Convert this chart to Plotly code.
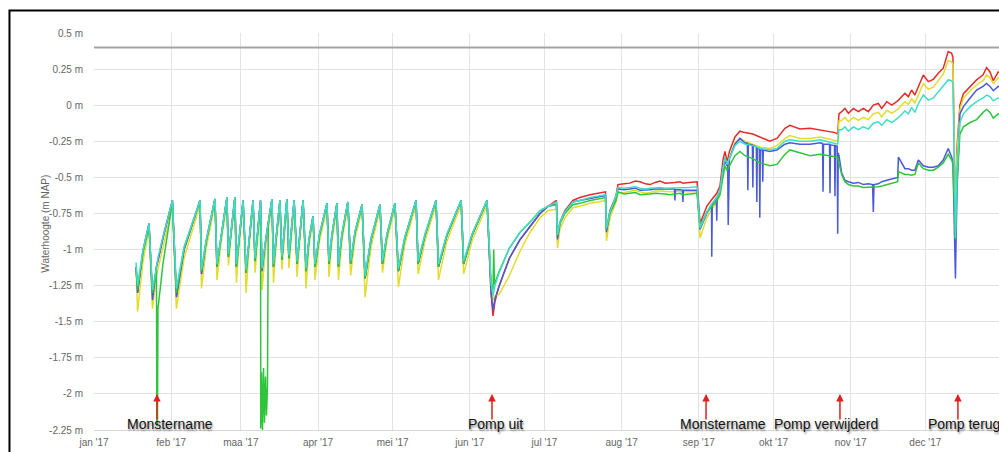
import pandas as pd
import plotly.graph_objects as go

# ---------------- data (day offsets from 1 Jan 2017, values in m NAP) ----------------
days = [
    16.9, 17.5, 19.7, 22.1, 23.5, 25.1, 25.9, 27.7, 31.5, 33.1,
    36.2, 42.6, 43.2, 45.0, 48.6, 49.4, 51.0, 53.4, 54.0, 55.0,
    56.6, 57.2, 58.3, 59.9, 61.1, 62.3, 63.9, 64.7, 65.7, 66.9,
    67.5, 69.1, 71.5, 72.1, 73.3, 74.7, 75.5, 76.5, 77.5, 78.3,
    79.4, 80.4, 81.6, 82.6, 84.0, 85.2, 86.4, 88.0, 88.8, 90.6,
    93.6, 94.4, 95.6, 97.6, 98.2, 99.6, 102.0, 103.1, 104.9, 107.7,
    108.9, 111.3, 114.9, 115.9, 117.7, 120.9, 122.3, 124.9, 129.4, 130.2,
    133.0, 137.4, 138.4, 141.8, 147.5, 148.5, 151.9, 157.9, 159.5, 160.3,
    161.1,
    162.8, 166.9, 171.2, 175.2, 179.2, 182.5, 185.8, 186.2, 187.2, 189.2,
    192.4, 195.2, 199.3, 202.5, 205.5, 205.9, 207.3, 209.7, 210.5, 213.0,
    215.3, 217.5, 219.4, 221.5, 223.4, 225.5, 227.4, 229.5, 231.4, 233.4,
    235.5, 236.6, 239.0, 242.3,
    243.5, 246.2, 247.9, 250.2, 251.5, 252.7, 253.5, 254.3, 254.8, 255.3,
    257.5, 259.5, 261.5, 264.7, 267.5, 271.5, 274.4, 277.6, 279.6, 283.6,
    287.7, 291.7, 295.7, 297.7, 298.8,
    299.3, 300.4, 301.7, 303.1, 305.1, 307.1, 309.1, 311.1, 313.1, 315.1,
    316.5, 318.5, 320.5, 322.9, 323.2, 325.8, 327.2, 328.5, 329.8, 331.2,
    333.2, 335.2, 337.2, 339.2, 341.2, 343.2, 344.6, 345.1, 346.1, 346.7,
    347.9, 349.3, 352.0, 354.6, 357.2, 358.6, 360.0, 361.3, 363.3, 365.0,
]

red = [
    -1.12, -1.30, -1.01, -0.82, -1.33, -1.12, -1.06, -0.92, -0.66, -1.33,
    -1.00, -0.66, -1.17, -0.95, -0.65, -1.12, -0.92, -0.64, -1.05, -0.88,
    -0.64, -1.12, -0.92, -0.66, -1.16, -0.93, -0.66, -1.08, -0.88, -0.66,
    -1.15, -0.92, -0.65, -1.12, -0.90, -0.66, -1.07, -0.88, -0.65, -1.06,
    -0.87, -0.66, -1.10, -0.90, -0.66, -1.15, -0.93, -0.77, -1.12, -0.90,
    -0.68, -1.10, -0.90, -0.68, -1.12, -0.90, -0.67, -1.10, -0.88, -0.69,
    -1.20, -0.93, -0.69, -1.10, -0.90, -0.68, -1.15, -0.92, -0.66, -1.10,
    -0.90, -0.66, -1.12, -0.90, -0.66, -1.10, -0.90, -0.66, -1.30, -1.46,
    -1.36,
    -1.25, -1.06, -0.93, -0.84, -0.75, -0.70, -0.66, -0.92, -0.81, -0.73,
    -0.66, -0.64, -0.62, -0.61, -0.60, -0.86, -0.73, -0.63, -0.55, -0.545,
    -0.54, -0.525, -0.53, -0.545, -0.55, -0.535, -0.525, -0.54, -0.54, -0.535,
    -0.53, -0.54, -0.535, -0.53,
    -0.82, -0.70, -0.66, -0.61, -0.56, -0.38, -0.32, -0.39, -0.36, -0.32,
    -0.22, -0.18, -0.19, -0.20, -0.22, -0.25, -0.23, -0.16, -0.14, -0.165,
    -0.16, -0.17, -0.18, -0.19, -0.20,
    -0.06, -0.045, -0.022, -0.056, -0.022, -0.045, -0.022, -0.045, 0.001, 0.012,
    -0.022, 0.024, 0.001, 0.03, 0.035, 0.082, 0.059, 0.105, 0.070, 0.13,
    0.209, 0.163, 0.179, 0.221, 0.256, 0.371, 0.36, 0.33, -0.85, -0.30,
    0.00, 0.08, 0.13, 0.175, 0.21, 0.26, 0.23, 0.17, 0.23, 0.22,
]

yellow = [
    -1.14, -1.43, -1.08, -0.86, -1.41, -1.18, -1.12, -0.98, -0.70, -1.41,
    -1.06, -0.69, -1.27, -1.00, -0.68, -1.21, -0.96, -0.67, -1.11, -0.92,
    -0.67, -1.23, -0.96, -0.69, -1.30, -0.98, -0.69, -1.16, -0.92, -0.69,
    -1.28, -0.96, -0.68, -1.23, -0.94, -0.69, -1.14, -0.92, -0.68, -1.13,
    -0.91, -0.69, -1.19, -0.94, -0.69, -1.27, -0.97, -0.80, -1.21, -0.94,
    -0.71, -1.19, -0.94, -0.71, -1.21, -0.94, -0.70, -1.18, -0.92, -0.72,
    -1.33, -0.98, -0.72, -1.16, -0.94, -0.71, -1.26, -0.96, -0.69, -1.17,
    -0.94, -0.69, -1.21, -0.94, -0.69, -1.17, -0.94, -0.69, -1.25, -1.35,
    -1.32,
    -1.31, -1.18, -1.01, -0.88, -0.78, -0.73, -0.72, -0.99, -0.86, -0.78,
    -0.71, -0.70, -0.68, -0.67, -0.66, -0.94, -0.78, -0.67, -0.61, -0.605,
    -0.60, -0.59, -0.60, -0.61, -0.605, -0.595, -0.595, -0.60, -0.60, -0.60,
    -0.595, -0.60, -0.60, -0.60,
    -0.92, -0.78, -0.73, -0.67, -0.62, -0.44, -0.37, -0.42, -0.40, -0.36,
    -0.26, -0.23, -0.25, -0.27, -0.29, -0.30, -0.28, -0.23, -0.21, -0.23,
    -0.23, -0.22, -0.24, -0.245, -0.25,
    -0.11, -0.105, -0.085, -0.115, -0.085, -0.105, -0.085, -0.10, -0.06, -0.05,
    -0.08, -0.035, -0.055, -0.03, -0.025, 0.024, 0.005, 0.045, 0.015, 0.075,
    0.15, 0.11, 0.125, 0.17, 0.215, 0.31, 0.30, 0.28, -0.88, -0.35,
    -0.03, 0.05, 0.10, 0.14, 0.17, 0.21, 0.19, 0.15, 0.19, 0.18,
]

blue = [
    -1.12, -1.30, -1.01, -0.82, -1.35, -1.12, -1.06, -0.92, -0.66, -1.33,
    -1.00, -0.66, -1.17, -0.95, -0.65, -1.12, -0.92, -0.64, -1.05, -0.88,
    -0.64, -1.12, -0.92, -0.66, -1.16, -0.93, -0.66, -1.08, -0.88, -0.66,
    -1.15, -0.92, -0.65, -1.12, -0.90, -0.66, -1.07, -0.88, -0.65, -1.06,
    -0.87, -0.66, -1.10, -0.90, -0.66, -1.15, -0.93, -0.77, -1.12, -0.90,
    -0.68, -1.10, -0.90, -0.68, -1.12, -0.90, -0.67, -1.10, -0.88, -0.69,
    -1.20, -0.93, -0.69, -1.10, -0.90, -0.68, -1.15, -0.92, -0.66, -1.10,
    -0.90, -0.66, -1.12, -0.90, -0.66, -1.10, -0.90, -0.66, -1.28, -1.42,
    -1.34,
    -1.25, -1.06, -0.93, -0.84, -0.75, -0.70, -0.68, -0.93, -0.82, -0.74,
    -0.67, -0.66, -0.645, -0.635, -0.625, -0.88, -0.74, -0.64, -0.58, -0.585,
    -0.58, -0.575, -0.59, -0.59, -0.585, -0.58, -0.58, -0.585, -0.585, None,
    -0.585, None, -0.59, -0.59,
    -0.86, -0.75, -0.70, None, -0.60, -0.46, -0.38, -0.42, None, -0.37,
    -0.27, -0.23, -0.26, None, None, -0.32, -0.31, -0.27, -0.26, -0.27,
    -0.27, -0.26, None, None, None,
    -0.35, -0.47, -0.52, -0.53, -0.54, -0.535, -0.55, -0.545, None, -0.545,
    -0.53, -0.52, -0.51, -0.50, -0.36, -0.44, -0.44, -0.45, -0.45, -0.38,
    -0.42, -0.43, -0.43, -0.42, -0.38, -0.30, -0.36, -0.40, -1.20, -0.60,
    -0.06, -0.01, 0.05, 0.105, 0.13, 0.15, 0.13, 0.10, 0.13, 0.12,
]

cyan = [
    -1.09, -1.25, -1.00, -0.82, -1.28, -1.10, -1.04, -0.91, -0.66, -1.27,
    -0.98, -0.66, -1.14, -0.94, -0.65, -1.10, -0.91, -0.64, -1.03, -0.87,
    -0.64, -1.10, -0.91, -0.66, -1.14, -0.92, -0.66, -1.06, -0.87, -0.66,
    -1.13, -0.91, -0.65, -1.10, -0.89, -0.66, -1.05, -0.87, -0.65, -1.04,
    -0.86, -0.66, -1.08, -0.89, -0.66, -1.13, -0.92, -0.77, -1.10, -0.89,
    -0.68, -1.08, -0.89, -0.68, -1.10, -0.89, -0.67, -1.08, -0.87, -0.69,
    -1.18, -0.92, -0.69, -1.08, -0.89, -0.68, -1.13, -0.91, -0.66, -1.08,
    -0.89, -0.66, -1.10, -0.89, -0.66, -1.08, -0.89, -0.66, -1.22, -1.32,
    -1.25,
    -1.16, -0.99, -0.88, -0.81, -0.73, -0.70, -0.67, -0.90, -0.81, -0.74,
    -0.67, -0.66, -0.64, -0.63, -0.62, -0.85, -0.74, -0.63, -0.57, -0.575,
    -0.57, -0.565, -0.575, -0.58, -0.575, -0.57, -0.57, -0.575, -0.575, -0.57,
    -0.57, -0.575, -0.57, -0.565,
    -0.85, -0.74, -0.69, -0.64, -0.59, -0.44, -0.36, -0.41, -0.39, -0.36,
    -0.28, -0.25, -0.27, -0.28, -0.30, -0.31, -0.30, -0.25, -0.24, -0.25,
    -0.25, -0.24, -0.26, -0.265, -0.27,
    -0.17, -0.17, -0.15, -0.18, -0.15, -0.17, -0.15, -0.165, -0.125, -0.115,
    -0.14, -0.10, -0.12, -0.09, -0.085, -0.04, -0.06, -0.015, -0.05, 0.01,
    0.07, 0.035, 0.05, 0.09, 0.13, 0.175, 0.17, 0.15, -0.92, -0.45,
    -0.12, -0.06, -0.01, 0.024, 0.05, 0.07, 0.06, 0.03, 0.05, 0.05,
]

green = [
    -1.12, -1.28, -1.02, -0.84, -1.30, -1.14, -1.38, -1.10, -0.67, -1.30,
    -0.99, -0.66, -1.15, -0.95, -0.65, -1.12, -0.92, -0.64, -1.05, -0.88,
    -0.64, -1.12, -0.92, -0.66, -1.16, -0.93, -0.66, -1.08, -0.88, -0.68,
    None, None, -0.65, -1.12, -0.90, -0.66, -1.07, -0.88, -0.65, -1.06,
    -0.87, -0.66, -1.10, -0.90, -0.66, -1.15, -0.93, -0.77, -1.12, -0.90,
    -0.68, -1.10, -0.90, -0.68, -1.12, -0.90, -0.67, -1.10, -0.88, -0.69,
    -1.20, -0.93, -0.69, -1.10, -0.90, -0.68, -1.15, -0.92, -0.66, -1.10,
    -0.90, -0.66, -1.12, -0.90, -0.66, -1.10, -0.90, -0.66, -1.24, -1.28,
    None,
    -1.15, -0.99, -0.88, -0.81, -0.73, -0.70, -0.69, -0.90, -0.82, -0.75,
    -0.69, -0.68, -0.66, -0.65, -0.64, -0.86, -0.75, -0.66, -0.60, -0.615,
    -0.61, -0.605, -0.62, -0.62, -0.615, -0.61, -0.61, -0.615, -0.62, -0.615,
    -0.61, -0.62, -0.615, -0.61,
    -0.84, -0.74, -0.71, -0.66, -0.62, -0.48, -0.42, -0.45, -0.44, -0.42,
    -0.35, -0.32, -0.35, -0.37, -0.40, -0.42, -0.41, -0.34, -0.31, -0.33,
    -0.35, -0.34, -0.35, -0.355, -0.36,
    -0.40, -0.48, -0.53, -0.55, -0.56, -0.56, -0.57, -0.57, -0.57, -0.565,
    -0.56, -0.55, -0.54, -0.53, -0.46, -0.48, -0.48, -0.485, -0.48, -0.40,
    -0.44, -0.45, -0.45, -0.43, -0.40, -0.34, -0.38, -0.41, -0.93, -0.55,
    -0.20, -0.15, -0.12, -0.10, -0.05, -0.03, -0.05, -0.09, -0.06, -0.06,
]

# short spikes (day, value)
green_extra = [
    (25.25, -2.22), (25.5, -2.20), (25.7, -1.40),
    (67.0, -2.24), (67.3, -1.85), (67.7, -2.25), (68.1, -1.82), (68.5, -2.20),
    (68.9, -1.88), (69.3, -2.15), (69.7, -1.95), (70.0, -0.84),
    (160.6, -1.00), (160.9, -1.24),
]
blue_extra = [
    (233.2, -0.58), (233.4, -0.66), (233.6, -0.585),
    (236.4, -0.59), (236.6, -0.67), (236.8, -0.59),
    (248.1, -0.70), (248.2, -1.05), (248.4, -0.69),
    (250.0, -0.64), (250.2, -0.80), (250.4, -0.63),
    (254.6, -0.41), (254.8, -0.83), (255.0, -0.40),
    (262.5, -0.265), (262.7, -0.59), (262.9, -0.27),
    (264.5, -0.275), (264.7, -0.57), (264.9, -0.28),
    (266.1, -0.29), (266.3, -0.67), (266.5, -0.30),
    (267.3, -0.30), (267.5, -0.78), (267.7, -0.31),
    (268.5, -0.31), (268.7, -0.53), (268.9, -0.31),
    (292.7, -0.265), (292.9, -0.60), (293.1, -0.27),
    (295.5, -0.27), (295.7, -0.61), (295.9, -0.275),
    (297.5, -0.28), (297.7, -0.63), (297.9, -0.28),
    (298.6, -0.285), (298.8, -0.89), (299.0, -0.33),
    (312.8, -0.55), (313.1, -0.74), (313.4, -0.55),
]

month_days = [0, 31, 59, 90, 120, 151, 181, 212, 243, 273, 304, 334]
month_labels = ["jan '17", "feb '17", "maa '17", "apr '17", "mei '17", "jun '17",
                "jul '17", "aug '17", "sep '17", "okt '17", "nov '17", "dec '17"]
y_ticks = [0.5, 0.25, 0, -0.25, -0.5, -0.75, -1, -1.25, -1.5, -1.75, -2, -2.25]
y_labels = ["0.5 m", "0.25 m", "0 m", "-0.25 m", "-0.5 m", "-0.75 m", "-1 m",
            "-1.25 m", "-1.5 m", "-1.75 m", "-2 m", "-2.25 m"]

limit_level = 0.4
events = ["Monstername", "Pomp uit", "Monstername", "Pomp verwijderd", "Pomp terug"]
event_days = [25.3, 159.9, 245.9, 299.7, 347.1]
label_days = [30.5, 161.3, 252.9, 294.1, 334.3]

for arr in (red, yellow, blue, cyan, green):
    assert len(arr) == len(days), (len(arr), len(days))

# ---------------- figure ----------------
base = pd.Timestamp("2017-01-01")


def to_dates(ds):
    return [base + pd.Timedelta(days=float(d)) for d in ds]


def build(vals, extra=()):
    pts = [(d, v) for d, v in zip(days, vals) if v is not None] + list(extra)
    pts.sort(key=lambda p: p[0])
    return to_dates([p[0] for p in pts]), [p[1] for p in pts]


series = [
    ("red", red, (), "#e52a2a"),
    ("yellow", yellow, (), "#e2dc2c"),
    ("blue", blue, blue_extra, "#4a5ad8"),
    ("green", green, green_extra, "#2fc43c"),
    ("cyan", cyan, (), "#3fdccc"),
]

fig = go.Figure()
for name, vals, extra, col in series:
    xs, ys = build(vals, extra)
    fig.add_trace(go.Scatter(x=xs, y=ys, mode="lines", name=name,
                             line=dict(color=col, width=1.5), hoverinfo="skip"))

fig.add_shape(type="line", xref="paper", x0=0, x1=1, yref="y",
              y0=limit_level, y1=limit_level, line=dict(color="#a3a3a3", width=2))

# outer frame
fig.add_shape(type="rect", xref="paper", yref="paper",
              x0=-0.0934, x1=1.05, y0=-0.2, y1=1.0567,
              line=dict(color="#000000", width=2), layer="above")

for txt, ed, ld in zip(events, event_days, label_days):
    fig.add_annotation(x=base + pd.Timedelta(days=ed), y=-2.0, xref="x", yref="y",
                       text="", showarrow=True, ax=0, ay=27, arrowhead=2,
                       arrowsize=1, arrowwidth=1.5, arrowcolor="#e0201c")
    fig.add_annotation(x=base + pd.Timedelta(days=ld), y=-2.208, xref="x", yref="y",
                       text=txt, showarrow=False,
                       xanchor="left" if txt == "Pomp terug" else "center",
                       yanchor="middle",
                       font=dict(family="Liberation Sans, Arial", size=14, color="#151515",
                                 shadow="1px 2px 2px rgba(0,0,0,0.45)"))

fig.add_annotation(x=-0.054, y=0.52, xref="paper", yref="paper",
                   text="Waterhoogte (m NAP)", textangle=-90, showarrow=False,
                   xanchor="center", yanchor="middle",
                   font=dict(family="Liberation Sans, Arial", size=10, color="#666666"))

fig.update_layout(
    width=999, height=452,
    margin=dict(l=94, r=0, t=33, b=22),
    paper_bgcolor="white", plot_bgcolor="white",
    showlegend=False,
    font=dict(family="Liberation Sans, Arial", size=10, color="#666666"),
    xaxis=dict(type="date",
               range=[base, base + pd.Timedelta(days=363.6)],
               tickvals=to_dates(month_days), ticktext=month_labels,
               showgrid=True, gridcolor="#e3e3e3", gridwidth=1,
               zeroline=False, showline=True, linecolor="#d8d8d8",
               ticks="", ticklabelstandoff=3,
               tickfont=dict(size=10, color="#666666")),
    yaxis=dict(range=[-2.25, 0.5], tickvals=y_ticks, ticktext=y_labels,
               showgrid=True, gridcolor="#e3e3e3", gridwidth=1,
               zeroline=False, showline=False, ticks="", ticklabelstandoff=10,
               tickfont=dict(size=10, color="#666666")),
)

fig.write_html("out.html")
